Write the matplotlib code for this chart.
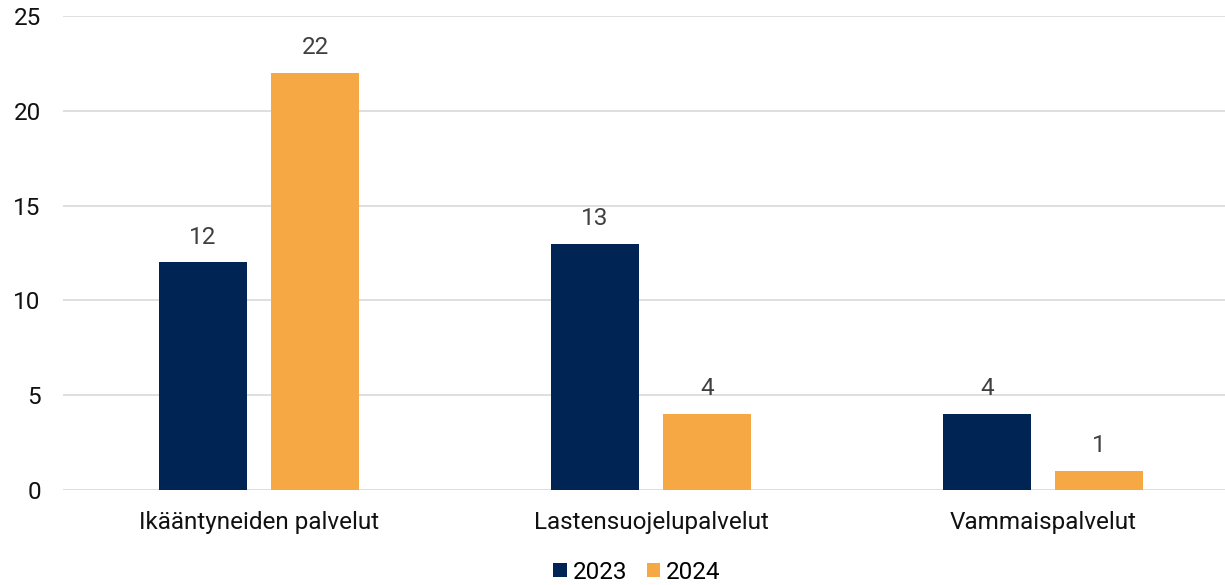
import matplotlib
matplotlib.use("Agg")
from matplotlib import pyplot as plt
import numpy as np

categories = ["Ikääntyneiden palvelut", "Lastensuojelupalvelut", "Vammaispalvelut"]
series_names = ["2023", "2024"]
values_2023 = [12, 13, 4]
values_2024 = [22, 4, 1]

colors = ["#002554", "#F5A843"]

plt.rcParams['font.family'] = ['Roboto', 'DejaVu Sans']

fig = plt.figure(figsize=(12.25, 5.85), dpi=100)
ax = fig.add_axes([63 / 1225, 1 - 490 / 585, 1176 / 1225, (490 - 16) / 585])

x = np.arange(len(categories))
width = 0.224
offset = 0.143

for vals, name, color, sign in zip([values_2023, values_2024], series_names, colors, [-1, 1]):
    bars = ax.bar(x + sign * offset, vals, width, color=color, label=name, zorder=3)
    for b, v in zip(bars, vals):
        ax.annotate(str(v), (b.get_x() + b.get_width() / 2, v), xytext=(0, 10),
                    textcoords="offset points", ha="center", va="bottom",
                    fontsize=17.5, color="#404040")

ax.set_xlim(-0.5, 2.5)
ax.set_ylim(0, 25)
ax.set_yticks(range(0, 26, 5))
ax.set_xticks(x)
ax.set_xticklabels(categories)
ax.grid(axis="y", color="#d9d9d9", linewidth=1.2, zorder=0)
for s in ax.spines.values():
    s.set_visible(False)
ax.tick_params(axis="both", length=0, labelsize=17.5, colors="#111111")
ax.tick_params(axis="x", pad=15)
ax.tick_params(axis="y", pad=16)

fig.legend(loc="lower center", ncol=2, bbox_to_anchor=(0.52, -0.035), frameon=False,
           fontsize=17.5, handlelength=0.55, handleheight=0.55, handletextpad=0.25,
           columnspacing=0.8)

fig.savefig("out.png", dpi=100)
